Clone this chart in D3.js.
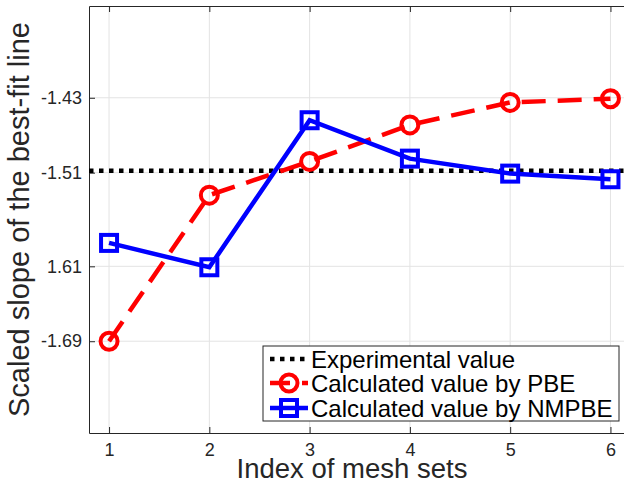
<!DOCTYPE html>
<html>
<head>
<meta charset="utf-8">
<script src="https://cdn.jsdelivr.net/npm/d3@7"></script>
<style>
  body { margin: 0; background: #fff; }
  text { font-family: "Liberation Sans", Arial, sans-serif; }
</style>
</head>
<body>
<div id="chart"></div>
<script>
// data
let meshIndex = [1, 2, 3, 4, 5, 6];
let pbe = [-1.690, -1.534, -1.498, -1.459, -1.435, -1.431];
let nmpbe = [-1.585, -1.611, -1.454, -1.495, -1.511, -1.517];
let experimental = [-1.508];
let yTicks = [-1.69, -1.61, -1.51, -1.43];
let yTickLabels = ['-1.69', '1.61', '-1.51', '-1.43'];
let legendLabels = ['Experimental value', 'Calculated value by PBE', 'Calculated value by NMPBE'];

let W = 624, H = 484;
let margin = {top: 6, left: 89, bottom: 51};
let axisColor = '#262626';

let svg = d3.select('#chart').append('svg')
  .attr('width', W)
  .attr('height', H);

let x = d3.scaleLinear().domain([0.8, 6.2]).range([margin.left, margin.left + 5.4 * 100.28]);
let y = d3.scaleLinear().domain([-1.788, -1.332]).range([H - margin.bottom, margin.top]);

let x0 = x.range()[0], x1 = x.range()[1];
let y0 = y.range()[0], y1 = y.range()[1];

// grid
svg.append('g').selectAll('line.gx')
  .data(meshIndex)
  .enter().append('line')
    .attr('x1', d => x(d)).attr('x2', d => x(d))
    .attr('y1', y0).attr('y2', y1)
    .attr('stroke', '#e3e3e3').attr('stroke-width', 1);
svg.append('g').selectAll('line.gy')
  .data(yTicks)
  .enter().append('line')
    .attr('x1', x0).attr('x2', x1)
    .attr('y1', d => y(d)).attr('y2', d => y(d))
    .attr('stroke', '#e3e3e3').attr('stroke-width', 1);

// axes
let gBottom = svg.append('g')
  .attr('transform', `translate(0,${y0})`)
  .call(d3.axisBottom(x).tickValues(meshIndex).tickFormat(d3.format('d'))
    .tickSizeInner(-6).tickSizeOuter(0).tickPadding(10));
let gTop = svg.append('g')
  .attr('transform', `translate(0,${y1})`)
  .call(d3.axisTop(x).tickValues(meshIndex).tickSizeInner(-6).tickSizeOuter(0).tickFormat(''));
let gLeft = svg.append('g')
  .attr('transform', `translate(${x0},0)`)
  .call(d3.axisLeft(y).tickValues(yTicks).tickSizeInner(-6).tickSizeOuter(0).tickPadding(7)
    .tickFormat((d, i) => yTickLabels[i]));

[gBottom, gTop, gLeft].forEach(g => {
  g.select('.domain').attr('stroke', axisColor);
  g.selectAll('.tick line').attr('stroke', axisColor);
  g.selectAll('.tick text')
    .attr('fill', axisColor)
    .style('font-size', '18px')
    .style('font-family', '"Liberation Sans", Arial, sans-serif');
});

// axis titles
svg.append('text')
  .attr('x', 352).attr('y', 478)
  .attr('text-anchor', 'middle')
  .attr('fill', axisColor)
  .style('font-size', '27.5px')
  .text('Index of mesh sets');
svg.append('text')
  .attr('transform', `translate(29,${(y0 + y1) / 2}) rotate(-90)`)
  .attr('text-anchor', 'middle')
  .attr('fill', axisColor)
  .style('font-size', '29px')
  .text('Scaled slope of the best-fit line');

let line = d3.line()
  .x((d, i) => x(meshIndex[i]))
  .y(d => y(d));

// experimental value
svg.append('line')
  .attr('x1', x0).attr('x2', x1)
  .attr('y1', y(experimental[0])).attr('y2', y(experimental[0]))
  .attr('stroke', '#000').attr('stroke-width', 4.5)
  .attr('stroke-dasharray', '4.5,5.5');

// PBE
svg.append('path')
  .datum(pbe)
  .attr('d', line)
  .attr('fill', 'none')
  .attr('stroke', '#ff0000').attr('stroke-width', 4.5)
  .attr('stroke-dasharray', '24,12');
svg.selectAll('circle.pbe')
  .data(pbe)
  .enter().append('circle')
    .attr('cx', (d, i) => x(meshIndex[i]))
    .attr('cy', d => y(d))
    .attr('r', 8.5)
    .attr('fill', 'none')
    .attr('stroke', '#ff0000').attr('stroke-width', 4);

// NMPBE
svg.append('path')
  .datum(nmpbe)
  .attr('d', line)
  .attr('fill', 'none')
  .attr('stroke', '#0000ff').attr('stroke-width', 4.5);
svg.selectAll('rect.nm')
  .data(nmpbe)
  .enter().append('rect')
    .attr('x', (d, i) => x(meshIndex[i]) - 8)
    .attr('y', d => y(d) - 8)
    .attr('width', 16).attr('height', 16)
    .attr('fill', 'none')
    .attr('stroke', '#0000ff').attr('stroke-width', 4);

// legend
let lg = svg.append('g').attr('transform', 'translate(263,346)');
lg.append('rect')
  .attr('width', 356).attr('height', 75)
  .attr('fill', '#fff')
  .attr('stroke', axisColor).attr('stroke-width', 1);

let rowY = [13, 37, 62];
legendLabels.forEach((lab, i) => {
  let ly = rowY[i];
  let seg = lg.append('line')
    .attr('x1', 7).attr('x2', 45)
    .attr('y1', ly).attr('y2', ly)
    .attr('stroke-width', 4.5);
  if (i === 0) seg.attr('stroke', '#000').attr('stroke-dasharray', '4.5,5.5');
  if (i === 1) {
    seg.attr('stroke', '#ff0000').attr('stroke-dasharray', '24,12').attr('stroke-dashoffset', 4);
    lg.append('circle').attr('cx', 26).attr('cy', ly).attr('r', 8.5)
      .attr('fill', 'none').attr('stroke', '#ff0000').attr('stroke-width', 4);
  }
  if (i === 2) {
    seg.attr('stroke', '#0000ff');
    lg.append('rect').attr('x', 18).attr('y', ly - 8).attr('width', 16).attr('height', 16)
      .attr('fill', 'none').attr('stroke', '#0000ff').attr('stroke-width', 4);
  }
  lg.append('text')
    .attr('x', 48).attr('y', ly + 8.5)
    .attr('fill', '#000')
    .style('font-size', '24px')
    .text(lab);
});
</script>
</body>
</html>
